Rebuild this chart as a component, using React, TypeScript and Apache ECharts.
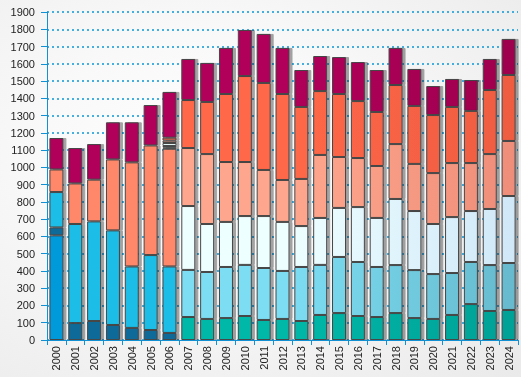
import React, { useEffect, useRef } from "react";
import * as echarts from "echarts";

const years = ["2000","2001","2002","2003","2004","2005","2006","2007","2008","2009","2010","2011","2012","2013","2014","2015","2016","2017","2018","2019","2020","2021","2022","2023","2024"];
const N = null;
const blue = [606, N, N, N, N, N, N, N, N, N, N, N, N, N, N, N, N, N, N, N, N, N, N, N, N];
const darkBlue = [46, 98, 110, 87, 70, 58, 41, N, N, N, N, N, N, N, N, N, N, N, N, N, N, N, N, N, N];
const cyan = [205, 574, 577, 548, 356, 434, 385, N, N, N, N, N, N, N, N, N, N, N, N, N, N, N, N, N, N];
const oldSalmon = [131, 235, 242, 411, 603, 635, 682, N, N, N, N, N, N, N, N, N, N, N, N, N, N, N, N, N, N];
const teal = [N, N, N, N, N, N, 7, 133, 122, 127, 139, 116, 122, 110, 145, 156, 139, 133, 156, 127, 122, 145, 208, 168, 174];
const lightBlue = [N, N, N, N, N, N, 9, 273, 272, 296, 296, 301, 278, 313, 290, 325, 313, 290, 278, 278, 260, 243, 244, 266, 272];
const white = [N, N, N, N, N, N, 17, 370, 278, 261, 283, 301, 284, 237, 272, 284, 318, 284, 383, 342, 290, 324, 295, 325, 388];
const lightSalmon = [N, N, N, N, N, N, 14, 336, 405, 347, 313, 267, 243, 273, 365, 295, 284, 301, 318, 273, 295, 313, 278, 318, 319];
const orange = [N, N, N, N, N, N, 17, 278, 302, 394, 498, 504, 498, 417, 370, 365, 330, 313, 342, 336, 336, 325, 302, 371, 382];
const maroon = [182, 205, 206, 215, 232, 234, 265, 238, 226, 267, 267, 284, 267, 214, 203, 214, 226, 243, 215, 214, 168, 162, 179, 180, 209];

const seriesDefs: [string, (number | null)[], string, string][] = [
  ["blue", blue, "#049ADB", "#049ADB"],
  ["darkBlue", darkBlue, "#0E6B99", "#0E6B99"],
  ["cyan", cyan, "#1ABEE7", "#1ABEE7"],
  ["oldSalmon", oldSalmon, "#FF876A", "#FF876A"],
  ["teal", teal, "#00B8A8", "#00A096"],
  ["lightBlue", lightBlue, "#7CDDF3", "#66B9CC"],
  ["white", white, "#EEFFFF", "#CFE7F8"],
  ["lightSalmon", lightSalmon, "#FFA78E", "#EE8D79"],
  ["orange", orange, "#FF6848", "#EE5C41"],
  ["maroon", maroon, "#B0005A", "#9E004D"],
];

export default function App() {
  const ref = useRef<HTMLDivElement>(null);
  useEffect(() => {
    const chart = echarts.init(ref.current!, undefined, { renderer: "svg" });
    const axisBlue = "#1190D4";
    chart.setOption({
      animation: false,
      backgroundColor: {
        type: "radial", x: 0.38, y: 0.4, r: 1.0,
        colorStops: [
          { offset: 0, color: "#FDFDFD" },
          { offset: 0.3, color: "#F9F9F9" },
          { offset: 1, color: "#E6E6E6" },
        ],
      },
      grid: { left: 47, top: 12, right: 3, bottom: 37, containLabel: false },
      xAxis: {
        type: "category",
        data: years,
        axisLine: { lineStyle: { color: axisBlue, width: 1 } },
        axisTick: { show: true, length: 5, lineStyle: { color: axisBlue } },
        axisLabel: { rotate: 90, margin: 6, fontFamily: "Liberation Sans", fontSize: 11, color: "#222" },
        splitLine: { show: false },
      },
      yAxis: {
        type: "value",
        min: 0, max: 1900, interval: 100,
        axisLine: { show: true, lineStyle: { color: axisBlue, width: 1 } },
        axisTick: { show: true, length: 6, lineStyle: { color: axisBlue } },
        axisLabel: { margin: 12, fontFamily: "Liberation Sans", fontSize: 11, color: "#222", formatter: (v: number) => String(v) },
        splitLine: { show: true, lineStyle: { color: "#0A96D8", width: 1.5, type: [2, 3] } },
      },
      series: seriesDefs.map(([name, data, color, dark]) => ({
        name,
        type: "bar",
        stack: "total",
        data,
        barWidth: 14,
        itemStyle: {
          color: {
            type: "linear", x: 0, y: 0, x2: 521, y2: 0, global: true,
            colorStops: [
              { offset: 0, color },
              { offset: 0.55, color },
              { offset: 1, color: dark },
            ],
          },
          borderColor: "#464646",
          borderWidth: 1,
          shadowColor: "rgba(0,0,0,0.35)",
          shadowBlur: 0,
          shadowOffsetX: 3,
          shadowOffsetY: 0,
        },
      })),
    });
    return () => chart.dispose();
  }, []);
  return <div ref={ref} style={{ position: "fixed", left: 0, top: 0, width: 521, height: 377 }} />;
}
